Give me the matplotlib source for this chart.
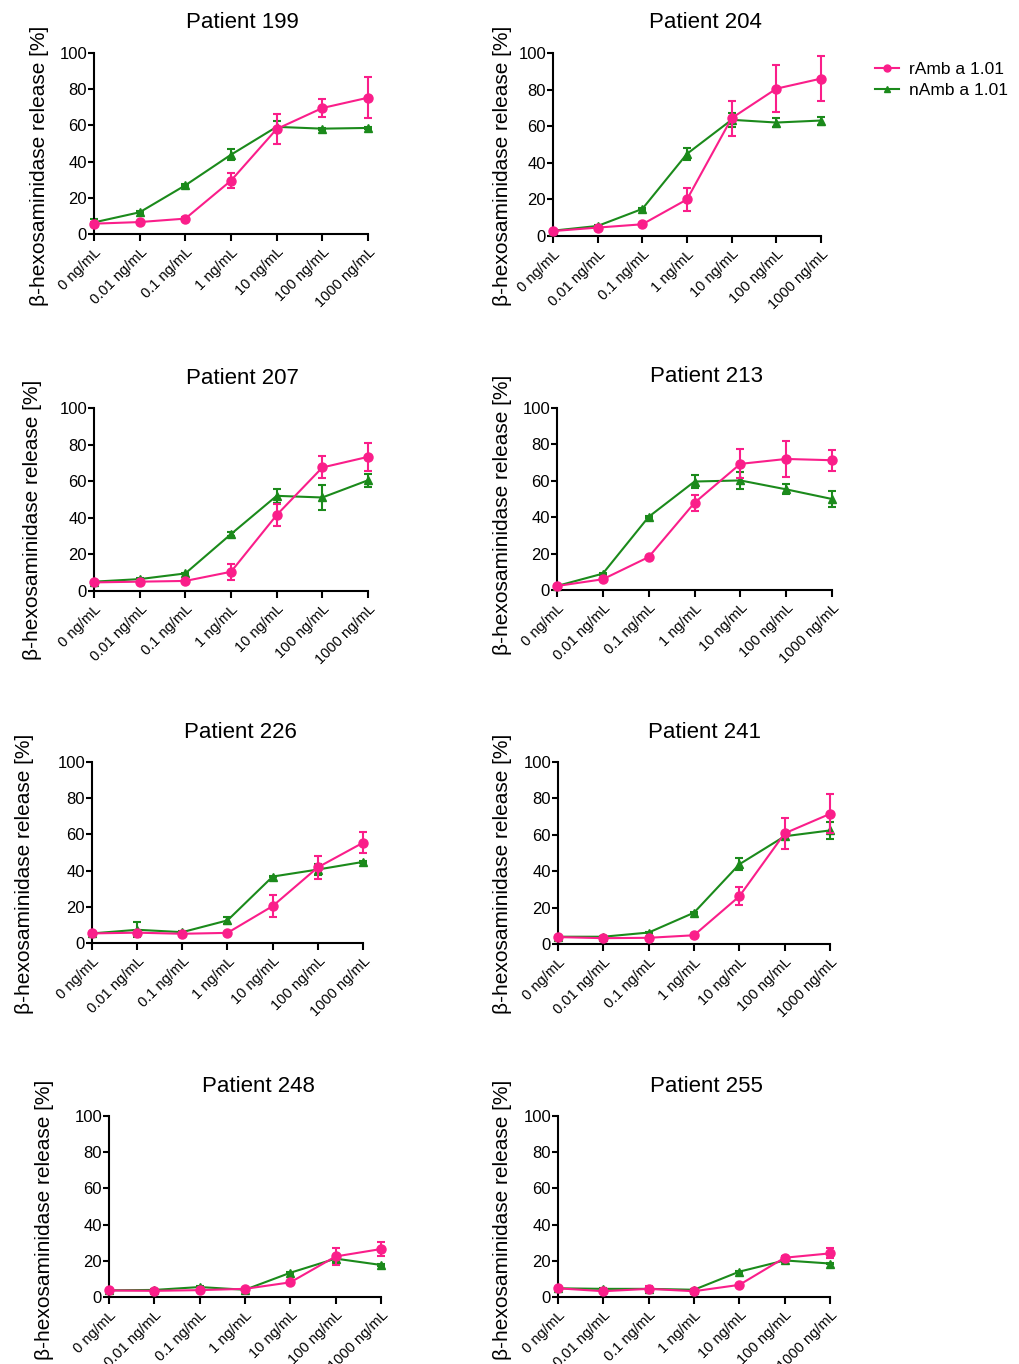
import matplotlib
matplotlib.use("Agg")
import matplotlib.pyplot as plt
from matplotlib.lines import Line2D

plt.rcParams['font.family'] = ['Liberation Sans', 'DejaVu Sans']

doses = ["0 ng/mL", "0.01 ng/mL", "0.1 ng/mL", "1 ng/mL", "10 ng/mL", "100 ng/mL", "1000 ng/mL"]
patients = ["199", "204", "207", "213", "226", "241", "248", "255"]

# rAmb a 1.01 (pink) mean / sem
r_199 = [5.7, 6.6, 8.5, 29.5, 58, 69.6, 75.3]
r_199_err = [1, 0.5, 1, 4.3, 8.3, 5, 11.3]
r_204 = [2.7, 4.6, 6.4, 20, 64.4, 80.5, 86]
r_204_err = [0.5, 0.5, 0.5, 6.5, 9.5, 12.9, 12.2]
r_207 = [4.7, 5.1, 5.5, 10.5, 41.5, 67.5, 73.3]
r_207_err = [0.5, 0.5, 0.5, 4.3, 6, 6, 7.5]
r_213 = [2.2, 5.9, 18.1, 47.9, 69.3, 72, 71.3]
r_213_err = [0.5, 0.5, 0.5, 4.5, 8, 9.8, 5.7]
r_226 = [5.3, 5.7, 5.1, 5.6, 20.4, 41.8, 55.4]
r_226_err = [0.5, 0.5, 0.5, 0.5, 5.9, 6.4, 5.8]
r_241 = [3.8, 3.2, 3.4, 4.8, 26.2, 60.8, 71.5]
r_241_err = [0.5, 0.5, 0.5, 0.5, 5, 8.5, 10.7]
r_248 = [3.6, 3.4, 3.8, 4.5, 8.1, 22.4, 26.5]
r_248_err = [0.5, 0.5, 0.5, 0.5, 0.5, 4.6, 4]
r_255 = [4.8, 3.2, 4.5, 3.2, 6.7, 21.7, 24.1]
r_255_err = [0.5, 0.5, 1.6, 0.5, 0.5, 0.8, 2.8]

# nAmb a 1.01 (green) mean / sem
n_199 = [6.4, 12, 26.9, 43.8, 59.2, 58.2, 58.6]
n_199_err = [2, 0.5, 0.5, 3, 3, 0.5, 0.5]
n_204 = [2.9, 5.5, 14.8, 44.9, 63.5, 62, 63.1]
n_204_err = [0.5, 0.5, 0.5, 3.2, 3.8, 2.6, 2.2]
n_207 = [5.1, 6.5, 9.6, 31.1, 52, 51.1, 60.5]
n_207_err = [0.5, 0.5, 0.5, 1, 4, 6.7, 3.6]
n_213 = [2.2, 9, 40.2, 59.6, 60.2, 55.3, 50]
n_213_err = [0.5, 0.5, 0.5, 3.5, 4.8, 2.7, 4.4]
n_226 = [5.3, 7.3, 6.0, 12.5, 36.7, 40.6, 44.8]
n_226_err = [0.5, 4.2, 0.5, 2, 0.5, 2.8, 0.5]
n_241 = [4.0, 4.0, 6.3, 17.2, 43.8, 59.2, 62.4]
n_241_err = [0.5, 0.5, 0.5, 0.5, 3.4, 1, 4.7]
n_248 = [3.7, 3.9, 5.5, 4.0, 13.4, 21.2, 17.7]
n_248_err = [0.5, 0.5, 0.5, 0.5, 0.5, 2, 0.5]
n_255 = [4.8, 4.5, 4.5, 4.0, 14.0, 20.2, 18.5]
n_255_err = [0.5, 0.5, 0.5, 0.5, 0.5, 1, 0.5]

r_all = [r_199, r_204, r_207, r_213, r_226, r_241, r_248, r_255]
r_err_all = [r_199_err, r_204_err, r_207_err, r_213_err, r_226_err, r_241_err, r_248_err, r_255_err]
n_all = [n_199, n_204, n_207, n_213, n_226, n_241, n_248, n_255]
n_err_all = [n_199_err, n_204_err, n_207_err, n_213_err, n_226_err, n_241_err, n_248_err, n_255_err]

W, H = 1019, 1364
# pixel boxes: left, right, top(100), bottom(0), ylabel x, ylabel y, title x, title y
boxes = [
    (94, 368, 53, 234, 40, 166, 242, 22),
    (553, 821, 53, 236, 502, 166, 705, 22),
    (94, 368, 408, 591, 33, 520, 242, 378),
    (557, 832, 408, 590, 502, 515, 706, 377),
    (92, 363, 762, 943, 25, 874, 240, 732),
    (558, 830, 762, 944, 502, 874, 705, 732),
    (109, 381, 1116, 1297, 45, 1220, 258, 1086),
    (558, 830, 1116, 1297, 502, 1220, 706, 1086),
]

pink = '#FA1E8A'
green = '#1B8A1B'

fig = plt.figure(figsize=(W / 100, H / 100), dpi=100)

x = list(range(len(doses)))
for i, (l, r, t, b, lx, ly, tx, ty) in enumerate(boxes):
    ax = fig.add_axes([l / W, 1 - b / H, (r - l) / W, (b - t) / H])
    ax.errorbar(x, r_all[i], yerr=r_err_all[i], color=pink, marker='o', ms=6.5,
                lw=1.5, capsize=3, elinewidth=1.5, capthick=1.5,
                clip_on=False, zorder=3)
    ax.errorbar(x, n_all[i], yerr=n_err_all[i], color=green, marker='^', ms=6,
                lw=1.5, capsize=3, elinewidth=1.5, capthick=1.5,
                clip_on=False, zorder=2)
    ax.set_xlim(0, 6)
    ax.set_ylim(0, 100)
    ax.set_yticks([0, 20, 40, 60, 80, 100])
    ax.set_xticks(x)
    ax.set_xticklabels(doses, rotation=45, ha='right', rotation_mode='anchor', fontsize=10.5)
    ax.tick_params(axis='y', labelsize=12, width=1.5, length=4, pad=1)
    ax.tick_params(axis='x', width=1.5, length=5, pad=3)
    for s in ['top', 'right']:
        ax.spines[s].set_visible(False)
    for s in ['left', 'bottom']:
        ax.spines[s].set_linewidth(1.5)
    fig.text(lx / W, 1 - ly / H, "β-hexosaminidase release [%]", rotation=90,
             ha='center', va='center', fontsize=15)
    fig.text(tx / W, 1 - ty / H, "Patient " + patients[i], ha='center', va='center', fontsize=16)
    if i == 1:
        handles = [Line2D([], [], color=pink, marker='o', ms=5, lw=1.5),
                   Line2D([], [], color=green, marker='^', ms=5, lw=1.5)]
        ax.legend(handles, ['rAmb a 1.01', 'nAmb a 1.01'], loc='center left',
                  bbox_to_anchor=(866 / W, 1 - 80 / H),
                  bbox_transform=fig.transFigure, frameon=False, fontsize=12.5,
                  handlelength=1.4, handletextpad=0.6, labelspacing=0.35, borderpad=0)

fig.savefig("out.png", dpi=100)
